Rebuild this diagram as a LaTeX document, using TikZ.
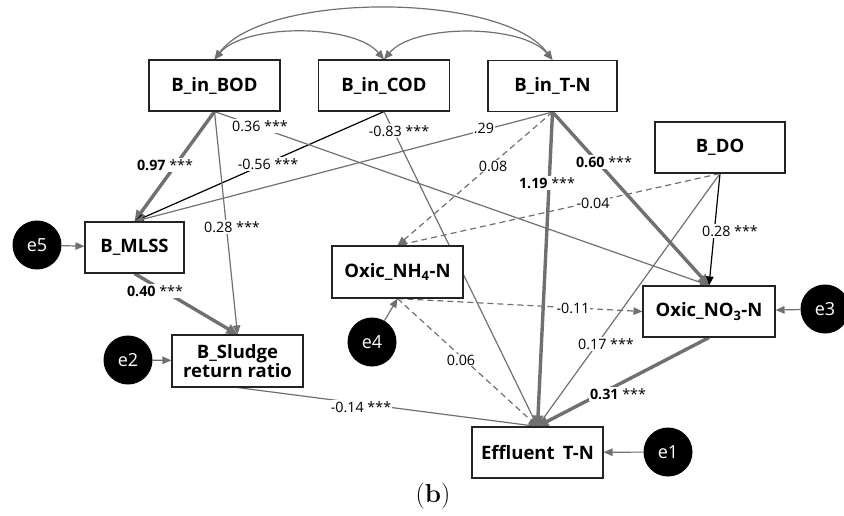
\documentclass[tikz,border=0pt]{standalone}
\usepackage{fontspec}
\newfontfamily\diagsans{Open Sans}
\usetikzlibrary{arrows.meta}
\pgfdeclarelayer{bg}
\pgfsetlayers{bg,main}

\definecolor{linkgray}{RGB}{112,112,112}
\definecolor{boxline}{RGB}{35,35,35}

\tikzset{
  box/.style={draw=boxline, line width=1.1pt, fill=white, minimum width=131pt,
    minimum height=51pt, inner sep=0pt, align=center,
    font=\diagsans\bfseries\fontsize{18.5}{21}\selectfont},
  errnode/.style={circle, fill=black, minimum size=49pt, inner sep=0pt,
    text=white, font=\diagsans\fontsize{18}{21}\selectfont},
  lbl/.style={fill=white, inner sep=1pt, font=\diagsans\fontsize{14.3}{16}\selectfont},
  headtip/.style={-{Triangle[length=9pt,width=7.5pt]}},
  graylink/.style={draw=linkgray, line width=1.2pt, headtip},
  blacklink/.style={draw=black, line width=1.2pt, headtip},
  heavylink/.style={draw=linkgray, line width=3.4pt,
    -{Triangle[length=11pt,width=10pt]}},
  dashlink/.style={graylink, dash pattern=on 6pt off 4pt},
  covlink/.style={draw=linkgray, line width=1.2pt,
    {Triangle[length=9pt,width=7.5pt]}-{Triangle[length=9pt,width=7.5pt]}},
}

\begin{document}
\begin{tikzpicture}[x=1pt, y=-1pt]
\useasboundingbox (0,0) rectangle (844,515);

% observed variables
\node[box] (bod) at (214.5,85.5) {B\_in\_BOD};
\node[box] (cod) at (384,85.5) {B\_in\_COD};
\node[box, minimum width=129pt] (tn) at (552.5,86) {B\_in\_T-N};
\node[box, minimum width=130pt] (do) at (720,147.5) {B\_DO};
\node[box, minimum width=99pt] (mlss) at (134.5,247.5) {B\_MLSS};
\node[box, minimum height=52pt] (nh) at (397.5,272) {Oxic\_NH\textsubscript{4}-N};
\node[box, minimum width=132pt] (no) at (709,311.5) {Oxic\_NO\textsubscript{3}-N};
\node[box, minimum height=52pt] (sl) at (237.5,361) {B\_Sludge\\[-1.5pt]return ratio};
\node[box] (eff) at (537.5,452.5) {Effluent\hspace{0.45em}T-N};

% error terms
\node[errnode] (e5) at (37,245) {e5};
\node[errnode] (e2) at (128,360) {e2};
\node[errnode] (e4) at (372,342) {e4};
\node[errnode] (e1) at (668,452) {e1};
\node[errnode] (e3) at (825,309) {e3};

\begin{pgfonlayer}{bg}
% covariances among the influent variables
\draw[covlink] (bod.north) .. controls +(50,-68) and +(-50,-68) .. (tn.north);
\draw[covlink] (bod.north) .. controls +(30,-36) and +(-30,-36) .. (cod.north);
\draw[covlink] (cod.north) .. controls +(30,-36) and +(-30,-36) .. (tn.north);

% structural paths
\draw[heavylink] (bod.south) -- (mlss.north);
\draw[blacklink] (cod.south) -- (mlss.north);
\draw[graylink] (tn.south) -- (mlss.north);
\draw[graylink] (bod.south) -- (no.north);
\draw[graylink] (bod.south) -- (sl.north);
\draw[heavylink] (mlss.south) -- (sl.north);
\draw[graylink] (cod.south) -- (eff.north);
\draw[dashlink] (tn.south) -- (nh.north);
\draw[heavylink] (tn.south) -- (eff.north);
\draw[heavylink] (tn.south) -- (no.north);
\draw[dashlink] (do.south) -- (nh.north);
\draw[blacklink] (do.south) -- (no.north);
\draw[graylink] (do.south) -- (eff.north);
\draw[dashlink] (nh.south) -- (no.west);
\draw[dashlink] (nh.south) -- (eff.north);
\draw[graylink] (sl.south) -- (eff.north);
\draw[heavylink] (no.south) -- (eff.north);

% error arrows
\draw[graylink] (e5) -- (mlss);
\draw[graylink] (e2) -- (sl);
\draw[graylink] (e4) -- (nh.south);
\draw[graylink] (e1) -- (eff);
\draw[graylink] (e3) -- (no);

% coefficients
\node[lbl] (l1) at (165,165) {\textbf{0.97} ***};
\node[lbl] (l2) at (268,164) {-0.56 ***};
\node[lbl] (l3) at (484,128) {.29};
\node[lbl] (l4) at (260,126) {0.36 ***};
\node[lbl] (l5) at (232,227) {0.28 ***};
\node[lbl] (l6) at (155,291) {\textbf{0.40} ***};
\node[lbl] (l7) at (399,131) {-0.83 ***};
\node[lbl] (l8) at (493,166) {0.08};
\node[lbl] (l9) at (547,183) {\textbf{1.19} ***};
\node[lbl] (l10) at (604,162) {\textbf{0.60} ***};
\node[lbl] (l11) at (593,203) {-0.04};
\node[lbl] (l12) at (730,231) {0.28 ***};
\node[lbl] (l13) at (606,344) {0.17 ***};
\node[lbl] (l14) at (573,308) {-0.11};
\node[lbl] (l15) at (461,360) {0.06};
\node[lbl] (l16) at (361,407) {-0.14 ***};
\node[lbl] (l17) at (618,394) {\textbf{0.31} ***};
\end{pgfonlayer}

\node[font=\fontsize{26}{30}\selectfont] (cap) at (433,496) {(\textbf{b})};
\end{tikzpicture}
\end{document}
